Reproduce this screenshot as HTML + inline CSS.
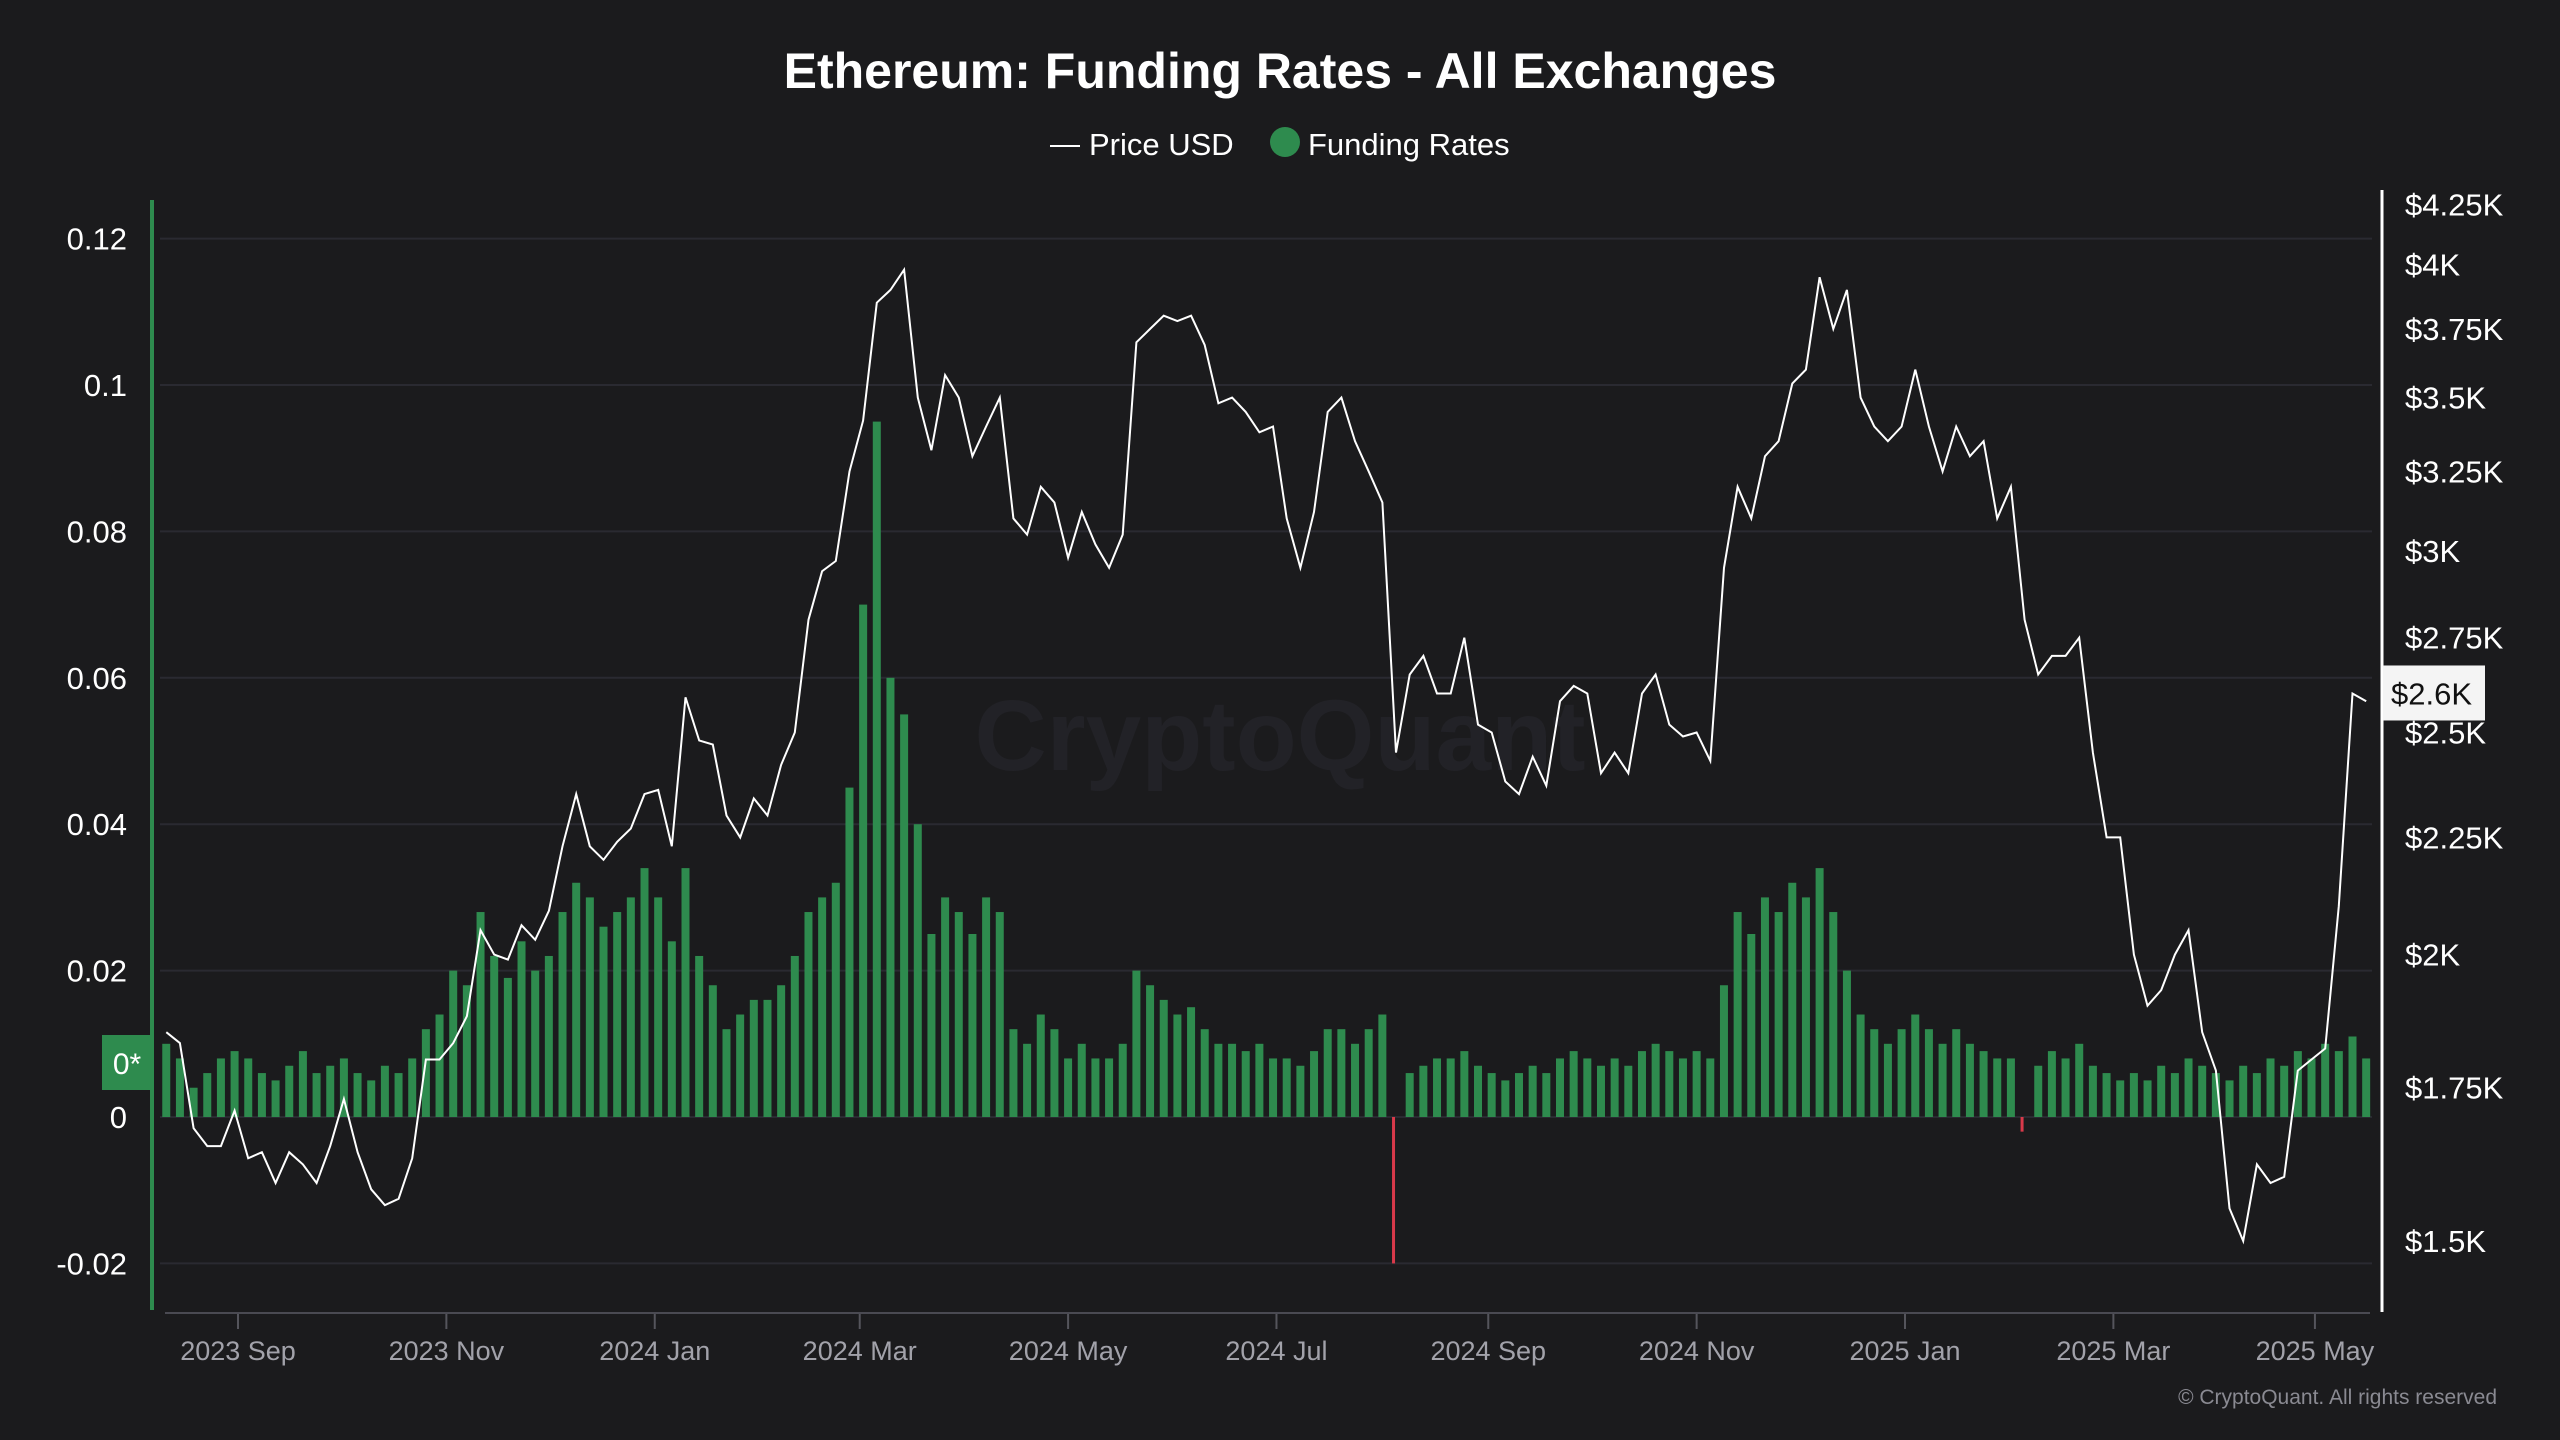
<!DOCTYPE html>
<html><head><meta charset="utf-8">
<style>
html,body{margin:0;padding:0;background:#1b1b1d;}
body{width:2560px;height:1440px;overflow:hidden;font-family:"Liberation Sans",sans-serif;}
</style></head>
<body>
<svg id="chart" width="2560" height="1440" xmlns="http://www.w3.org/2000/svg" style="position:absolute;left:0;top:0">
<rect x="0" y="0" width="2560" height="1440" fill="#1b1b1d"/>
<text x="1280" y="88" text-anchor="middle" font-size="50" font-weight="bold" fill="#ffffff">Ethereum: Funding Rates - All Exchanges</text>
<g>
<line x1="1050" y1="146" x2="1080" y2="146" stroke="#ffffff" stroke-width="2"/>
<text x="1089" y="155" font-size="31" fill="#ffffff">Price USD</text>
<circle cx="1285" cy="142" r="15" fill="#2e8b4e"/>
<text x="1308" y="155" font-size="31" fill="#ffffff">Funding Rates</text>
</g>
<text x="1280" y="770" text-anchor="middle" font-size="100" font-weight="bold" fill="#222227">CryptoQuant</text>
<g id="grid"></g>
<g id="bars"></g>
<g id="price"></g>
<g id="axes"></g>
<text x="2497" y="1404" text-anchor="end" font-size="21" fill="#8a8a92">© CryptoQuant. All rights reserved</text>
</svg>
<script>
const leftTicks = [0.12, 0.1, 0.08, 0.06, 0.04, 0.02, 0, -0.02];
const leftTickLabels = ["0.12","0.1","0.08","0.06","0.04","0.02","0","-0.02"];
const rightTicks = [4250,4000,3750,3500,3250,3000,2750,2500,2250,2000,1750,1500];
const rightTickLabels = ["$4.25K","$4K","$3.75K","$3.5K","$3.25K","$3K","$2.75K","$2.5K","$2.25K","$2K","$1.75K","$1.5K"];
const xTickDays = [0, 61, 122, 182, 243, 304, 366, 427, 488, 549, 608];
const xTickLabels = ["2023 Sep","2023 Nov","2024 Jan","2024 Mar","2024 May","2024 Jul","2024 Sep","2024 Nov","2025 Jan","2025 Mar","2025 May"];
const startDay = -21;
const stepDays = 4;
const prices = [
1850,1830,1680,1650,1650,1710,
1630,1640,1590,1640,1620,1590,1650,
1730,1640,1580,1555,1565,1630,1800,1800,
1830,1880,2050,2000,1990,2060,2030,
2090,2230,2350,2230,2200,2240,2270,2350,
2360,2230,2590,2480,2470,2300,2250,2340,
2300,2420,2500,2800,2940,2970,3250,
3420,3850,3900,3980,3500,3320,3580,3500,
3300,3400,3500,3100,3050,3200,3150,
2980,3120,3020,2950,3050,3700,3750,3800,
3780,3800,3690,3480,3500,3450,3380,3400,
3100,2950,3120,3450,3500,3350,3250,
3150,2450,2650,2700,2600,2600,2750,2520,
2500,2380,2350,2440,2370,2580,2620,2600,
2400,2450,2400,2600,2650,2520,2490,
2500,2430,2950,3200,3100,3300,3350,3550,
3600,3950,3750,3900,3500,3400,3350,3400,
3600,3400,3250,3400,3300,3350,3100,
3200,2800,2650,2700,2700,2750,2450,
2250,2250,2000,1900,1930,2000,2050,1850,
1780,1550,1500,1620,1590,1600,1780,1800,
1820,2100,2600,2580];
const funding = [
.010,.008,.004,.006,.008,.009,
.008,.006,.005,.007,.009,.006,.007,
.008,.006,.005,.007,.006,.008,.012,.014,
.020,.018,.028,.022,.019,.024,.020,
.022,.028,.032,.030,.026,.028,.030,.034,
.030,.024,.034,.022,.018,.012,.014,.016,
.016,.018,.022,.028,.030,.032,.045,
.070,.095,.060,.055,.040,.025,.030,.028,
.025,.030,.028,.012,.010,.014,.012,
.008,.010,.008,.008,.010,.020,.018,.016,
.014,.015,.012,.010,.010,.009,.010,.008,
.008,.007,.009,.012,.012,.010,.012,
.014,-.020,.006,.007,.008,.008,.009,.007,
.006,.005,.006,.007,.006,.008,.009,.008,
.007,.008,.007,.009,.010,.009,.008,
.009,.008,.018,.028,.025,.030,.028,.032,
.030,.034,.028,.020,.014,.012,.010,.012,
.014,.012,.010,.012,.010,.009,.008,
.008,-.002,.007,.009,.008,.010,.007,
.006,.005,.006,.005,.007,.006,.008,.007,
.006,.005,.007,.006,.008,.007,.009,.008,
.010,.009,.011,.008];

const NS = "http://www.w3.org/2000/svg";
function xOf(day){ return 238 + day*3.416; }
function yL(v){ return 1117 - v*7320; }
function yR(p){ return 1241 - 995.4*Math.log(p/1500); }
function mk(tag, attrs, parent){ const e=document.createElementNS(NS,tag); for(const k in attrs) e.setAttribute(k,attrs[k]); parent.appendChild(e); return e; }

const grid=document.getElementById('grid'), bars=document.getElementById('bars'), pr=document.getElementById('price'), axes=document.getElementById('axes');

leftTicks.forEach((t,i)=>{
  const gl=mk('line',{x1:160,x2:2372,y1:yL(t),y2:yL(t),stroke:'#2a2a31','stroke-width':2},grid);
  
  
  const tx=mk('text',{x:127,y:yL(t)+11,'text-anchor':'end','font-size':31,fill:'#ffffff'},axes);
  tx.textContent=leftTickLabels[i];
  
  
});
rightTicks.forEach((t,i)=>{
  const tx=mk('text',{x:2405,y:yR(t)+11,'font-size':31,fill:'#ffffff'},axes);
  tx.textContent=rightTickLabels[i];
  
  
});
xTickDays.forEach((d,i)=>{
  const tk=mk('line',{x1:xOf(d),x2:xOf(d),y1:1313,y2:1329,stroke:'#55555c','stroke-width':2},axes);
  
  
  const tx=mk('text',{x:xOf(d),y:1360,'text-anchor':'middle','font-size':27,fill:'#a2a2aa'},axes);
  tx.textContent=xTickLabels[i];
  
  
});

funding.forEach((v,i)=>{
  const x=xOf(startDay+i*stepDays);
  const y0=yL(0), y1=yL(v);
  const b=mk('rect',{x:x-4,width:v<0?3:8,y:Math.min(y0,y1),height:Math.max(1,Math.abs(y1-y0)),fill:v<0?'#d9394a':'#2e8b4e'},bars);
  
  
});

let d='';
prices.forEach((p,i)=>{ d+=(i?'L':'M')+xOf(startDay+i*stepDays).toFixed(1)+','+yR(p).toFixed(1); });
const pl=mk('path',{d:d,fill:'none',stroke:'#ffffff','stroke-width':2},pr);



const la=mk('line',{x1:152,x2:152,y1:200,y2:1310,stroke:'#2e8b4e','stroke-width':4},axes);


const ra=mk('line',{x1:2382,x2:2382,y1:190,y2:1312,stroke:'#ffffff','stroke-width':3},axes);


const xa=mk('line',{x1:165,x2:2370,y1:1313,y2:1313,stroke:'#4a4a52','stroke-width':2},axes);



const zb=mk('rect',{x:102,y:1035,width:50,height:55,fill:'#2e8b4e'},axes);


const zt=mk('text',{x:127,y:1074,'text-anchor':'middle','font-size':30,fill:'#ffffff'},axes);
zt.textContent='0*';



const cy=yR(2600);
const pb=mk('rect',{x:2383,y:cy-28,width:102,height:55,fill:'#f4f4f4'},axes);


const pt=mk('text',{x:2391,y:cy+11,'font-size':31,fill:'#111111'},axes);
pt.textContent='$2.6K';


</script>
</body></html>
